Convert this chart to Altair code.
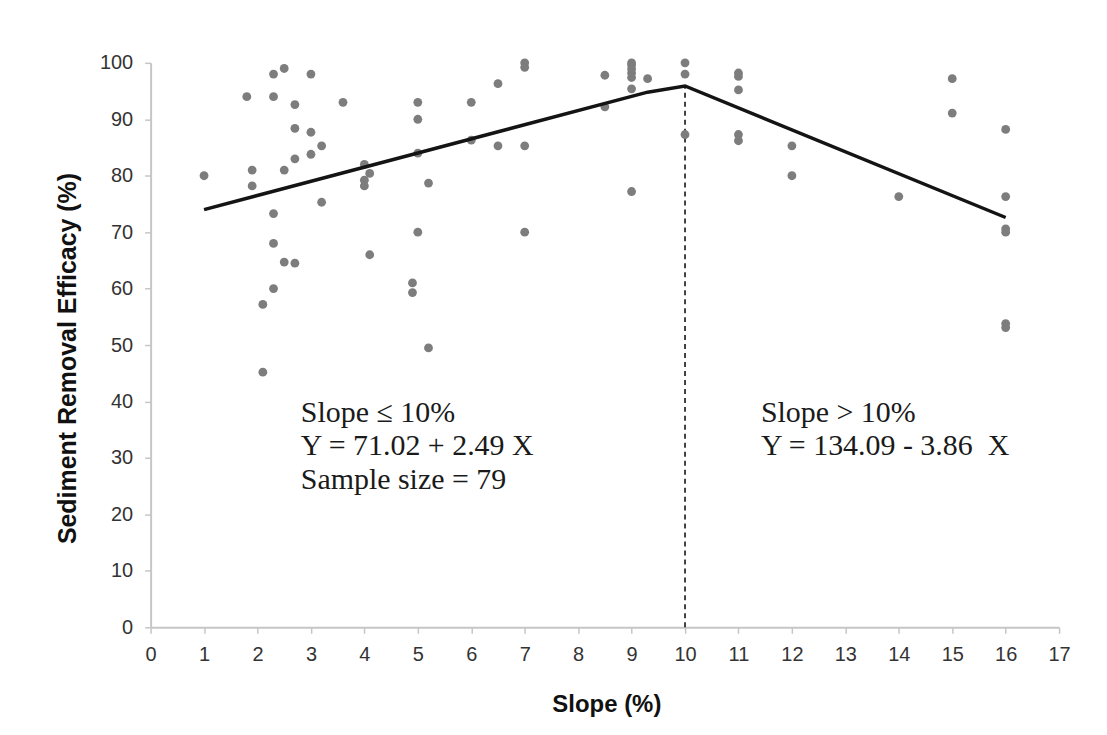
import altair as alt
import pandas as pd

slope = [1, 1.8, 2.3, 2.5, 3, 2.3, 2.7, 3.6, 2.7, 3, 3.2, 2.7, 3, 1.9, 2.5, 1.9, 4, 4.1, 4, 4,
         3.2, 2.3, 2.3, 2.5, 2.7, 4.1, 2.3, 2.1, 2.1,
         5, 5, 5, 5.2, 5, 4.9, 4.9, 5.2, 6, 6, 6.5, 6.5, 7, 7, 7, 7, 8.5, 8.5,
         9, 9, 9, 9, 9, 9, 9, 9.3, 10, 10, 10,
         11, 11, 11, 11, 11, 12, 12, 14, 15, 15, 16, 16, 16, 16, 16, 16]
efficacy = [80, 94, 98, 99, 98, 94, 92.6, 93, 88.4, 87.7, 85.3, 83, 83.8, 81, 81, 78.2, 82, 80.4, 79.2, 78.2,
            75.3, 73.3, 68, 64.7, 64.5, 66, 60, 57.2, 45.2,
            93, 90, 84, 78.7, 70, 61, 59.3, 49.5, 93, 86.3, 96.3, 85.3, 100, 99.2, 85.3, 70, 97.8, 92.2,
            100, 99.6, 98.9, 98.2, 97.4, 95.4, 77.2, 97.2, 100, 98, 87.3,
            98.2, 97.6, 95.2, 87.3, 86.2, 85.3, 80, 76.3, 97.2, 91.1, 88.2, 76.3, 70.6, 70, 53.8, 53.1]

# fitted piecewise regression line
fit_x = [1, 9.3, 10, 16]
fit_y = [74.0, 94.8, 95.9, 72.6]

# breakpoint marker
break_x = [10]
break_top = [95.9]

# annotations
note_x = [2.81, 11.42]
note_y = [36.4, 36.4]
note_text = ["Slope \u2264 10%\nY = 71.02 + 2.49 X\nSample size = 79",
             "Slope > 10%\nY = 134.09 - 3.86\u00a0 X"]

x_ticks = list(range(0, 18))
y_ticks = list(range(0, 101, 10))

pts = pd.DataFrame({"slope": slope, "eff": efficacy})
fit = pd.DataFrame({"slope": fit_x, "eff": fit_y})
brk = pd.DataFrame({"slope": break_x, "top": break_top, "bottom": [0]})
notes = pd.DataFrame({"x": note_x, "y": note_y, "t": note_text})

AX = "#c6c6c6"
LAB = "#333333"

xscale = alt.Scale(domain=[0, 17], nice=False, zero=False)
yscale = alt.Scale(domain=[0, 100], nice=False)

xaxis = alt.Axis(values=x_ticks, title="Slope (%)", grid=False, domainColor=AX, domainWidth=2,
                 tickColor=AX, tickWidth=1.5, tickSize=6, labelPadding=11, labelFontSize=20,
                 labelColor=LAB, labelFont="Liberation Sans", titleFont="Liberation Sans",
                 titleFontSize=24, titleFontWeight="bold", titleColor="#111111",
                 titleX=457, titleY=77, titleAlign="center", titleBaseline="middle",
                 labelFlush=False, labelOverlap=False)
yaxis = alt.Axis(values=y_ticks, title="Sediment Removal Efficacy (%)", grid=False, domainColor=AX,
                 domainWidth=2, tickColor=AX, tickWidth=1.5, tickSize=6, labelPadding=12,
                 labelFontSize=20, labelColor=LAB, labelFont="Liberation Sans",
                 titleFont="Liberation Sans", titleFontSize=25, titleFontWeight="bold",
                 titleColor="#111111", titleX=-83, titleY=296, titleAngle=-90,
                 titleAlign="center", titleBaseline="middle", labelFlush=False, labelOverlap=False)

points = alt.Chart(pts).mark_circle(size=78, color="#7d7d7d", opacity=1).encode(
    x=alt.X("slope:Q", scale=xscale, axis=xaxis),
    y=alt.Y("eff:Q", scale=yscale, axis=yaxis),
)

line = alt.Chart(fit).mark_line(color="#141414", strokeWidth=3.5).encode(
    x=alt.X("slope:Q", scale=xscale),
    y=alt.Y("eff:Q", scale=yscale),
)

rule = alt.Chart(brk).mark_rule(color="#141414", strokeWidth=1.6, strokeDash=[5, 4]).encode(
    x=alt.X("slope:Q", scale=xscale),
    y=alt.Y("bottom:Q", scale=yscale),
    y2="top:Q",
)

text = alt.Chart(notes).mark_text(align="left", baseline="alphabetic", font="Liberation Serif",
                                  fontSize=30, lineBreak="\n", lineHeight=33.5,
                                  color="#1a1a1a").encode(
    x=alt.X("x:Q", scale=xscale),
    y=alt.Y("y:Q", scale=yscale),
    text="t:N",
)

chart = alt.layer(rule, points, line, text).properties(
    width=911, height=566,
    autosize=alt.AutoSizeParams(type="none"),
    padding={"left": 143, "top": 54, "right": 40, "bottom": 95},
    background="white",
).configure_view(stroke=None)

chart.save("out.html", embed_options={"renderer": "svg", "actions": False})
